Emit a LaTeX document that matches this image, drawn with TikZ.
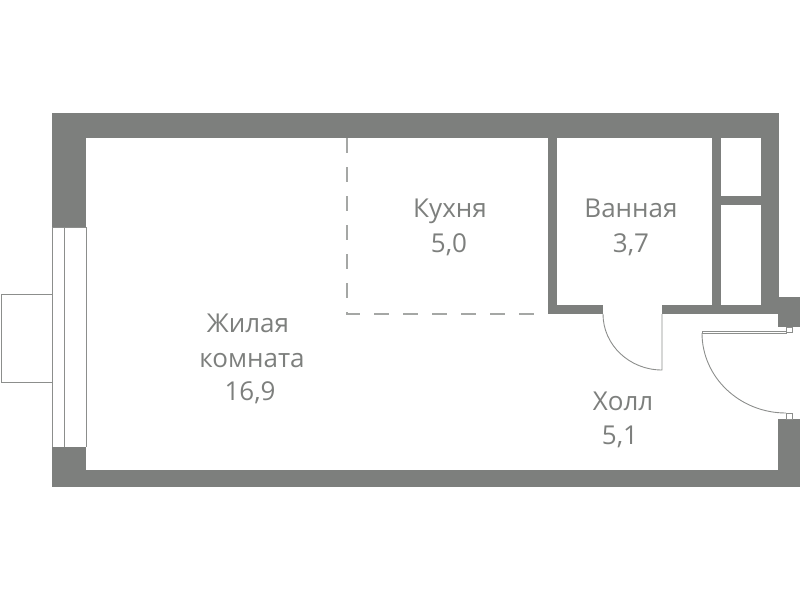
\documentclass[tikz,border=0pt]{standalone}
\usepackage{fontspec}
\setmainfont{Open Sans}
\definecolor{wallgray}{HTML}{7D7F7D}
\definecolor{linegray}{HTML}{8C8E8C}
\definecolor{dashgray}{HTML}{A5A7A5}
\tikzset{
    wall/.style={fill=wallgray},
    thinline/.style={draw=linegray, line width=0.9pt},
    roomlabel/.style={text=wallgray, font=\fontsize{26}{30}\selectfont, inner sep=0pt, anchor=base}
}

\begin{document}
\begin{tikzpicture}[x=1pt, y=-1pt]
    \useasboundingbox (0,0) rectangle (800,600);

    % walls
    \fill[wall] (52,113) rectangle (779,138);
    \fill[wall] (52,113) rectangle (86,227);
    \fill[wall] (52,447) rectangle (86,487);
    \fill[wall] (52,470) rectangle (800,487);
    \fill[wall] (761,113) rectangle (779,314);
    \fill[wall] (778,297) rectangle (800,327);
    \fill[wall] (778,419) rectangle (800,487);
    \fill[wall] (548,138) rectangle (557,314);
    \fill[wall] (712,138) rectangle (721,314);
    \fill[wall] (721,196) rectangle (761,205);
    \fill[wall] (548,305) rectangle (603,314);
    \fill[wall] (662,305) rectangle (778,314);

    % window and balcony
    \draw[thinline] (52,227) -- (52,447);
    \draw[thinline] (64,227) -- (64,447);
    \draw[thinline] (86,227) -- (86,447);
    \draw[thinline] (52,227) -- (86,227);
    \draw[thinline] (52,294) -- (1,294) -- (1,382) -- (52,382);

    % kitchen border
    \draw[draw=dashgray, line width=1.3pt, dash pattern=on 15pt off 14pt] (347,138) -- (347,314) -- (548,314);

    % doors
    \draw[thinline] (603,314) arc (180:90:59 and 56) -- (662,314);
    \draw[thinline] (702,333) arc (180:90:84 and 80);
    \draw[thinline] (702,331) rectangle (786,333);
    \draw[thinline] (786,327) rectangle (792,332);
    \draw[thinline] (786,413) rectangle (792,419);

    % labels
    \node[roomlabel] (living1) at (248,332) {Жилая};
    \node[roomlabel] (living2) at (252,367) {комната};
    \node[roomlabel] (living3) at (250,400) {16,9};
    \node[roomlabel] (kitchen1) at (450,217) {Кухня};
    \node[roomlabel] (kitchen2) at (449,252) {5,0};
    \node[roomlabel] (bath1) at (631,217) {Ванная};
    \node[roomlabel] (bath2) at (631,252) {3,7};
    \node[roomlabel] (hall1) at (623,410) {Холл};
    \node[roomlabel] (hall2) at (620,444) {5,1};
\end{tikzpicture}
\end{document}
